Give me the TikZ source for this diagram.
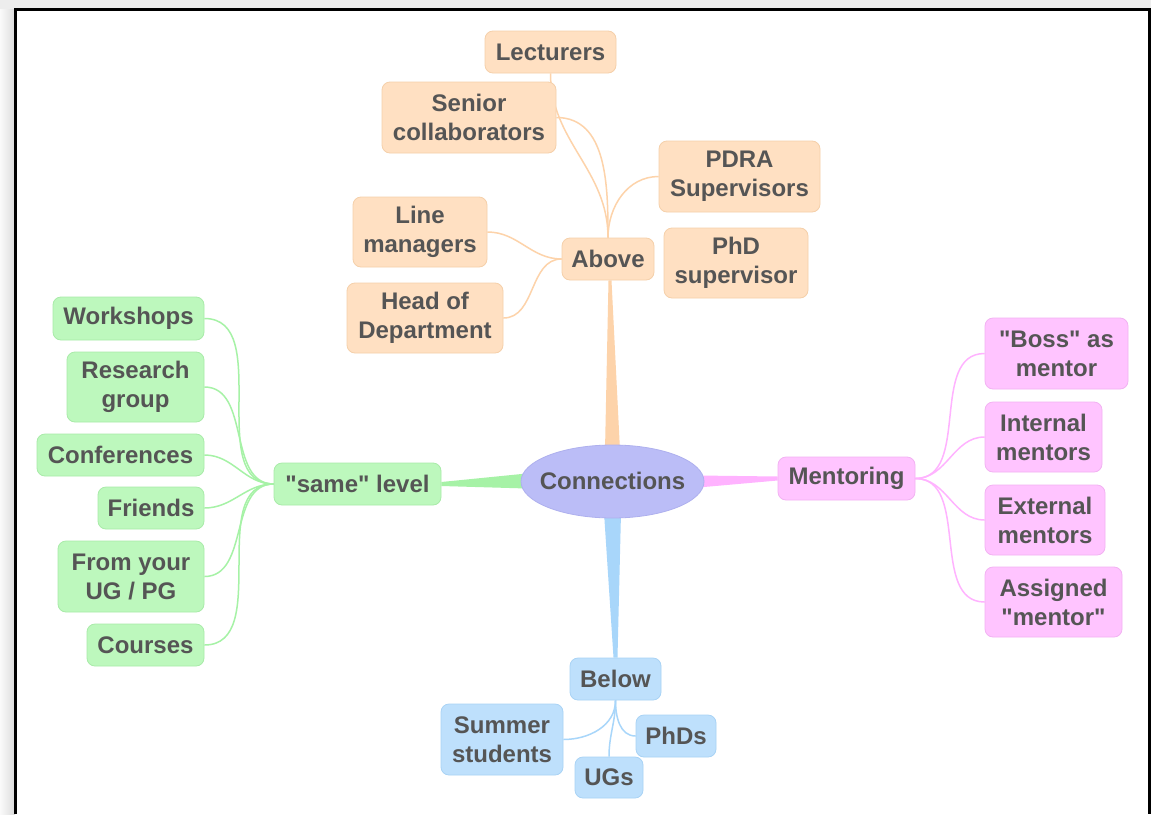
\documentclass[tikz,border=0pt]{standalone}
\usepackage{fontspec}
\setmainfont{Liberation Sans}
\usetikzlibrary{shapes.geometric,calc}
\pgfdeclarelayer{back}\pgfdeclarelayer{mid}
\pgfsetlayers{back,mid,main}
\definecolor{txt}{HTML}{555555}
\definecolor{ofill}{HTML}{FFE0C2}\definecolor{oedge}{HTML}{F5D0AA}\definecolor{oline}{HTML}{FDD3AA}
\definecolor{gfill}{HTML}{BDF8BD}\definecolor{gedge}{HTML}{A9EBA9}\definecolor{gline}{HTML}{A6F2A6}
\definecolor{pfill}{HTML}{FFC4FF}\definecolor{pedge}{HTML}{F2B2F2}\definecolor{pline}{HTML}{FFB3FF}
\definecolor{bfill}{HTML}{BEE0FC}\definecolor{bedge}{HTML}{A9D3F5}\definecolor{bline}{HTML}{A8D6FA}
\definecolor{cfill}{HTML}{BBBDF7}\definecolor{cedge}{HTML}{AEB0EE}
\newcommand{\qq}{\textquotedbl}
\tikzset{
  box/.style={rounded corners=8pt, inner sep=0pt, align=center, text=txt,
    font=\fontsize{24}{29}\selectfont\bfseries, line width=0.8pt},
  obox/.style={box, fill=ofill, draw=oedge},
  gbox/.style={box, fill=gfill, draw=gedge},
  pbox/.style={box, fill=pfill, draw=pedge},
  bbox/.style={box, fill=bfill, draw=bedge},
  cbox/.style={ellipse, fill=cfill, draw=cedge, line width=0.8pt, inner sep=0pt,
    text=txt, font=\fontsize{24}{29}\selectfont\bfseries},
  sz/.style 2 args={minimum width=#1pt, minimum height=#2pt},
  oconn/.style={draw=oline, line width=1.5pt},
  gconn/.style={draw=gline, line width=1.5pt},
  pconn/.style={draw=pline, line width=1.5pt},
  bconn/.style={draw=bline, line width=1.5pt},
}
\begin{document}
\begin{tikzpicture}[x=1pt,y=-1pt]
\useasboundingbox (0,0) rectangle (1151,814);
\begin{pgfonlayer}{back}
\fill[gray!14] (0,0) rectangle (1151,814);
\shade[left color=gray!4, right color=gray!28] (0,9) rectangle (15,814);
\fill[white] (15,9) rectangle (1149,814);
\draw[line width=3pt, black] (15.5,814) -- (15.5,9.5) -- (1149.5,9.5) -- (1149.5,814);
\end{pgfonlayer}

% central node
\node[cbox, sz={183}{73}] (conn) at (612.5,481.5) {\smash{\raisebox{-2pt}{\makebox[0pt]{Connections}}}\vphantom{x}};
% orange group
\node[obox, sz={92}{42}] (above) at (608,259) {Above};
\node[obox, sz={131}{42}] (lect) at (550.5,52) {Lecturers};
\node[obox, sz={174}{71}] (senior) at (469,117.5) {Senior\\collaborators};
\node[obox, sz={161}{71}] (pdra) at (739.5,176.5) {PDRA\\Supervisors};
\node[obox, sz={134}{70}] (line) at (420,232) {Line\\managers};
\node[obox, sz={144}{70}] (phd) at (736,263) {PhD\\supervisor};
\node[obox, sz={156}{70}] (head) at (425,318) {Head of\\Department};
% pink group
\node[pbox, sz={137}{43}] (ment) at (846.5,478.5) {Mentoring};
\node[pbox, sz={143}{71}] (boss) at (1056.5,353.5) {\qq Boss\qq{} as\\mentor};
\node[pbox, sz={117}{70}] (intm) at (1043.5,437) {Internal\\mentors};
\node[pbox, sz={120}{70}] (extm) at (1045,520) {External\\mentors};
\node[pbox, sz={137}{70}] (asgn) at (1053.5,602) {Assigned\\\qq mentor\qq};
% green group
\node[gbox, sz={167}{42}] (same) at (357.5,484) {\qq same\qq{} level};
\node[gbox, sz={151}{43}] (work) at (128.5,318.5) {Workshops};
\node[gbox, sz={137}{70}] (res) at (135.5,387) {Research\\group};
\node[gbox, sz={167}{42}] (conf) at (120.5,455) {Conferences};
\node[gbox, sz={106}{42}] (friends) at (151,508) {Friends};
\node[gbox, sz={146}{71}] (fromug) at (131,576.5) {From your\\UG / PG};
\node[gbox, sz={117}{42}] (courses) at (145.5,645) {Courses};
% blue group
\node[bbox, sz={91}{42}] (below) at (615.5,679) {Below};
\node[bbox, sz={122}{71}] (summer) at (502,739.5) {Summer\\students};
\node[bbox, sz={80}{42}] (phds) at (676,736) {PhDs};
\node[bbox, sz={68}{41}] (ugs) at (609,777.5) {UGs};

\begin{pgfonlayer}{mid}
% main tapered branches
\fill[oline] ($(conn.north)+(-7.5,6)$) -- ($(above.south)+(0.5,0)$) -- ($(above.south)+(3.5,0)$) -- ($(conn.north)+(7.5,6)$) -- cycle;
\fill[gline] ($(conn.west)+(6,-8)$) -- ($(same.east)+(0,-2)$) -- ($(same.east)+(0,2)$) -- ($(conn.west)+(6,7)$) -- cycle;
\fill[pline] ($(conn.east)+(-6,-6)$) -- ($(ment.west)+(0,-2)$) -- ($(ment.west)+(0,2)$) -- ($(conn.east)+(-6,6)$) -- cycle;
\fill[bline] ($(conn.south)+(-8.5,-6)$) -- ($(below.north)+(-2,0)$) -- ($(below.north)+(2,0)$) -- ($(conn.south)+(8.5,-6)$) -- cycle;
% orange
\draw[oconn] (above.west) to[out=180,in=0] (line.east);
\draw[oconn] (above.west) to[out=180,in=0] (head.east);
\draw[oconn] (above.north) to[out=90,in=180] (pdra.west);
\draw[oconn] (above.north) to[out=90,in=0] (senior.east);
\draw[oconn] (above.north) to[out=90,in=-90] (lect.south);
% pink
\draw[pconn] (ment.east) to[out=0,in=180] (boss.west);
\draw[pconn] (ment.east) to[out=0,in=180] (intm.west);
\draw[pconn] (ment.east) to[out=0,in=180] (extm.west);
\draw[pconn] (ment.east) to[out=0,in=180] (asgn.west);
% green
\draw[gconn] (same.west) to[out=180,in=0] (work.east);
\draw[gconn] (same.west) to[out=180,in=0] (res.east);
\draw[gconn] (same.west) to[out=180,in=0] (conf.east);
\draw[gconn] (same.west) to[out=180,in=0] (friends.east);
\draw[gconn] (same.west) to[out=180,in=0] (fromug.east);
\draw[gconn] (same.west) to[out=180,in=0] (courses.east);
% blue
\draw[bconn] (below.south) to[out=-90,in=0] (summer.east);
\draw[bconn] (below.south) to[out=-90,in=180] (phds.west);
\draw[bconn] (below.south) to[out=-90,in=90] (ugs.north);
\end{pgfonlayer}
\end{tikzpicture}
\end{document}
